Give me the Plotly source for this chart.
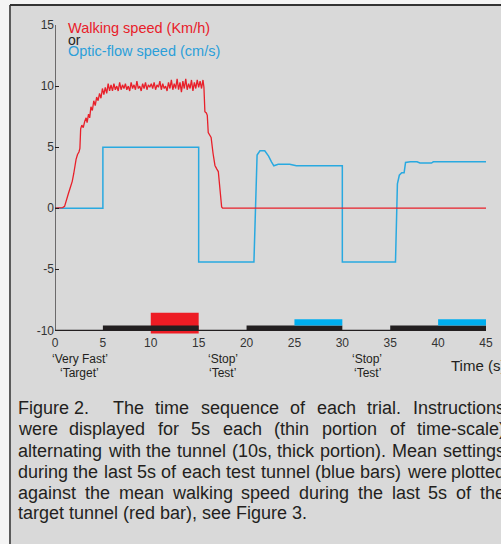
import plotly.graph_objects as go

# ---------------- data ----------------
walk_t = [0.0, 0.8, 1.0, 1.2, 1.4, 1.6, 1.8, 1.95, 2.05, 2.2, 2.35, 2.5, 2.6, 2.68, 2.8, 2.95,
          3.1, 3.25, 3.35, 3.5, 3.62, 3.75, 3.9, 4.05, 4.2, 4.35, 4.5, 4.65, 4.8, 4.95, 5.1,
          5.25, 5.4, 5.55, 5.7, 5.85, 6.0, 6.15, 6.3, 6.45, 6.6, 6.75, 6.9, 7.05, 7.2, 7.35,
          7.5, 7.65, 7.8, 7.95, 8.1, 8.25, 8.4, 8.55, 8.7, 8.85, 9.0, 9.15, 9.3, 9.45, 9.6,
          9.75, 9.9, 10.05, 10.2, 10.35, 10.5, 10.65, 10.8, 10.95, 11.1, 11.25, 11.4, 11.55,
          11.7, 11.85, 12.0, 12.15, 12.3, 12.45, 12.6, 12.75, 12.9, 13.05, 13.2, 13.35, 13.5,
          13.65, 13.8, 13.95, 14.1, 14.25, 14.4, 14.55, 14.7, 14.85, 15.0, 15.15, 15.3, 15.45,
          15.55, 15.65, 15.8, 15.9, 16.0, 16.15, 16.3, 16.5, 16.7, 16.9, 17.05, 17.4, 17.5, 45.0]
walk_v = [0.0, 0.05, 0.15, 0.6, 1.2, 1.7, 2.2, 2.8, 3.4, 4.0, 4.4, 4.6, 4.9, 6.5, 6.8, 6.6,
          7.1, 7.4, 7.0, 7.7, 7.4, 8.3, 8.0, 8.8, 8.4, 9.1, 8.8, 9.4, 9.0, 9.8, 9.3,
          9.9, 9.4, 10.2, 9.6, 10.1, 9.6, 10.2, 9.7, 10.0, 9.6, 10.3, 9.7, 10.1, 9.8, 10.2,
          9.7, 10.0, 9.6, 10.3, 9.8, 10.1, 9.7, 10.4, 9.8, 10.0, 9.6, 10.2, 9.8, 10.3, 9.7,
          10.1, 9.9, 10.2, 9.8, 10.3, 9.7, 10.1, 9.9, 10.4, 9.7, 10.2, 9.8, 10.0,
          9.6, 10.3, 9.8, 10.5, 9.7, 10.2, 9.8, 10.6, 9.7, 10.3, 9.5, 10.4, 9.8,
          10.6, 9.7, 10.2, 9.8, 10.5, 9.6, 10.3, 9.8, 10.5, 9.9, 10.4, 9.8, 10.5,
          9.9, 7.9, 7.8, 7.6, 6.2, 6.0, 5.8, 4.5, 3.5, 3.2, 3.0, 0.1, 0.0, 0.0]

flow_t = [0, 5, 5, 15, 15, 20.77, 21.1, 21.4, 21.9, 22.3, 22.6, 22.85, 23.3, 24.5, 25.2, 30,
          30, 35.55, 35.75, 35.95, 36.2, 36.45, 36.6, 37.1, 37.8, 38.1, 39.3, 39.5, 45]
flow_v = [0, 0, 5, 5, -4.4, -4.4, 4.35, 4.7, 4.7, 4.26, 3.8, 3.47, 3.6, 3.6, 3.47, 3.47,
          -4.4, -4.4, 2.0, 2.7, 2.9, 2.9, 3.75, 3.8, 3.8, 3.7, 3.7, 3.8, 3.8]

# time-scale bars: [start, end]
tunnel_bars = [[5, 15], [20, 30], [35, 45]]
tunnel_y = [-10.0, -9.6]
target_bar = [10, 15]
target_y = [-10.25, -8.55]
test_bars = [[25, 30], [40, 45]]
test_y = [-9.6, -9.1]

x_ticks = [0, 5, 10, 15, 20, 25, 30, 35, 40, 45]
y_ticks = [15, 10, 5, 0, -5, -10]

phase_labels = [("‘Very Fast’", "‘Target’", 2.6), ("‘Stop’", "‘Test’", 17.5), ("‘Stop’", "‘Test’", 32.6)]

caption_head = "Figure 2."
caption = [
    "The time sequence of each trial. Instructions",
    "were displayed for 5s each (thin portion of time-scale)",
    "alternating with the tunnel (10s, thick portion). Mean settings",
    "during the last 5s of each test tunnel (blue bars) were plotted",
    "against the mean walking speed during the last 5s of the",
    "target tunnel (red bar), see Figure 3.",
]

# ---------------- style ----------------
RED = "#e8202a"
BLUE = "#29a9e0"
BLACK = "#231f20"
PANEL = "#d9d9d9"
FONT = "Arial, Liberation Sans, sans-serif"

W, H = 501, 544
L, R, T, B = 55, 15, 25, 210
pw, ph = W - L - R, H - T - B


def px(x):
    return (x - L) / pw


def py(y):
    return (H - B - y) / ph


# Arial advance widths (per 1000 em) for caption justification
AW = {' ': 278, '(': 333, ')': 333, ',': 278, '-': 333, '.': 278, '/': 278}
AW.update({d: 556 for d in "0123456789"})
AW.update(dict(zip("ABCDEFGHIJKLMNOPQRSTUVWXYZ",
                   [667, 667, 722, 722, 667, 611, 778, 722, 278, 500, 667, 556, 833, 722, 778, 667,
                    778, 722, 667, 611, 722, 667, 944, 667, 667, 611])))
AW.update(dict(zip("abcdefghijklmnopqrstuvwxyz",
                   [556, 556, 500, 556, 556, 278, 556, 556, 222, 222, 500, 222, 833, 556, 556, 556,
                    556, 333, 500, 278, 556, 500, 722, 500, 500, 500])))


def tw(s, size):
    return sum(AW.get(c, 556) for c in s) * size / 1000.0


fig = go.Figure()

# bars
fig.add_trace(go.Bar(x=[(target_bar[0] + target_bar[1]) / 2], y=[target_y[1] - target_y[0]],
                     base=[target_y[0]], width=[target_bar[1] - target_bar[0]],
                     marker=dict(color="#ed1c24", line=dict(width=0)), showlegend=False))
fig.add_trace(go.Bar(x=[(a + b) / 2 for a, b in tunnel_bars], y=[tunnel_y[1] - tunnel_y[0]] * len(tunnel_bars),
                     base=[tunnel_y[0]] * len(tunnel_bars), width=[b - a for a, b in tunnel_bars],
                     marker=dict(color=BLACK, line=dict(width=0)), showlegend=False))
fig.add_trace(go.Bar(x=[(a + b) / 2 for a, b in test_bars], y=[test_y[1] - test_y[0]] * len(test_bars),
                     base=[test_y[0]] * len(test_bars), width=[b - a for a, b in test_bars],
                     marker=dict(color="#00aeef", line=dict(width=0)), showlegend=False))

# lines
fig.add_trace(go.Scatter(x=flow_t, y=flow_v, mode="lines", line=dict(color=BLUE, width=1.5),
                         showlegend=False))
fig.add_trace(go.Scatter(x=walk_t, y=walk_v, mode="lines", line=dict(color=RED, width=1.3),
                         showlegend=False))

shapes = [
    dict(type="rect", xref="paper", yref="paper", x0=px(10), x1=px(W + 20), y0=py(H + 20), y1=py(5),
         fillcolor=PANEL, line=dict(width=0), layer="below"),
    dict(type="line", xref="paper", yref="paper", x0=px(10), x1=px(10), y0=py(H + 20), y1=py(5),
         line=dict(color="#5a5a5a", width=2), layer="below"),
    dict(type="line", xref="paper", yref="paper", x0=px(10), x1=px(W + 20), y0=py(5), y1=py(5),
         line=dict(color="#333333", width=2), layer="below"),
    dict(type="line", xref="x", yref="y", x0=0, x1=45, y0=-10, y1=-10, line=dict(color=BLACK, width=1.2)),
    dict(type="line", xref="x", yref="y", x0=0, x1=0, y0=-10, y1=15, line=dict(color=BLACK, width=1.2)),
]

annotations = [
    dict(text="Walking speed (Km/h)", x=px(66), y=py(28), font=dict(color=RED, size=14.5)),
    dict(text="or", x=px(66), y=py(39.5), font=dict(color=BLACK, size=14)),
    dict(text="Optic-flow speed (cm/s)", x=px(66), y=py(51), font=dict(color="#2b9fd9", size=14.5)),
    dict(text="Time (s)", x=px(449), y=py(365), font=dict(color=BLACK, size=15)),
]
for a in annotations:
    a.update(xref="paper", yref="paper", xanchor="left", yanchor="middle", showarrow=False)

for top, bot, xc in phase_labels:
    annotations.append(dict(text=top, x=xc, xref="x", y=py(359), yref="paper", showarrow=False,
                            xanchor="center", yanchor="middle", font=dict(size=12, color=BLACK)))
    annotations.append(dict(text=bot, x=xc, xref="x", y=py(373), yref="paper", showarrow=False,
                            xanchor="center", yanchor="middle", font=dict(size=12, color=BLACK)))

# caption, justified word by word
CAP = 18
cap_y = [408, 429, 451, 472, 493, 513]
left_x, head_end, right_x = 18, 113, 505


def add_word(word, xpix, ypix):
    annotations.append(dict(text=word, x=px(xpix), y=py(ypix), xref="paper", yref="paper",
                            showarrow=False, xanchor="left", yanchor="middle",
                            font=dict(size=CAP, color=BLACK), borderpad=0, borderwidth=0))


add_word(caption_head, left_x, cap_y[0])
for i, (line, yy) in enumerate(zip(caption, cap_y)):
    words = line.split(" ")
    x0 = head_end if i == 0 else left_x
    if i == len(caption) - 1:
        gap = tw(" ", CAP)
    else:
        total = sum(tw(w, CAP) for w in words)
        gap = (right_x - x0 - total) / (len(words) - 1)
    xx = x0
    for w in words:
        add_word(w, xx, yy)
        xx += tw(w, CAP) + gap

fig.update_layout(
    width=W, height=H,
    margin=dict(l=L, r=R, t=T, b=B, pad=0, autoexpand=False),
    paper_bgcolor="#f4f4f4",
    plot_bgcolor="rgba(0,0,0,0)",
    font=dict(family=FONT, color="#333333", size=12),
    barmode="overlay",
    showlegend=False,
    hovermode=False,
    shapes=shapes,
    annotations=annotations,
    xaxis=dict(range=[0, 45], tickvals=x_ticks, ticktext=[str(v) for v in x_ticks],
               showgrid=False, zeroline=False, showline=False, ticks="", automargin=False,
               tickfont=dict(size=12, color="#333333")),
    yaxis=dict(range=[-10.3, 15], tickvals=y_ticks, ticktext=[str(v) for v in y_ticks],
               showgrid=False, zeroline=False, showline=False, ticks="inside", ticklen=4,
               automargin=False,
               tickcolor=BLACK, tickwidth=1.2, tickfont=dict(size=12, color="#333333")),
)

fig.write_html("out.html", config={"displayModeBar": False},
               post_script="document.body.style.margin='0px';document.body.style.overflow='hidden';")
